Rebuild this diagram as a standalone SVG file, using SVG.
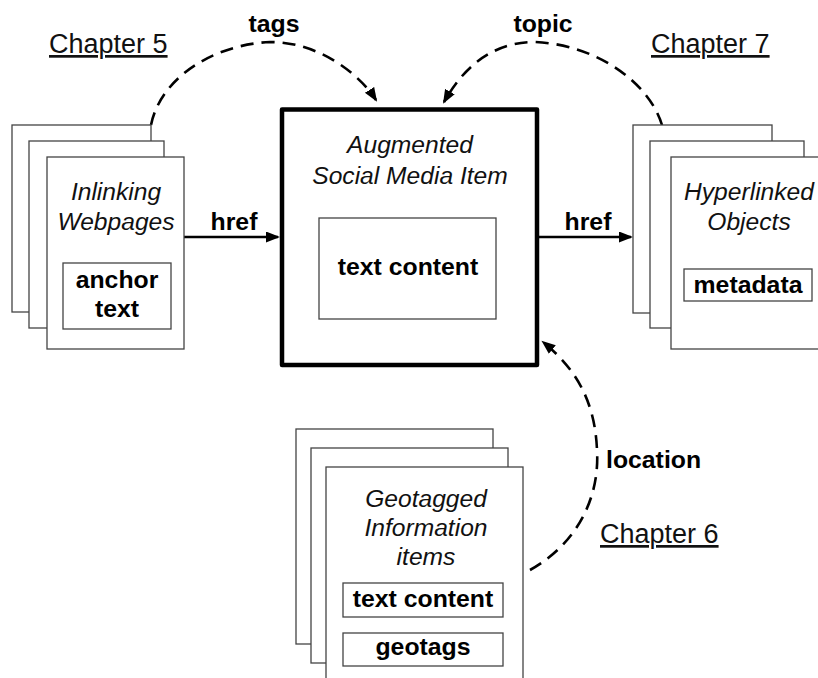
<svg xmlns="http://www.w3.org/2000/svg" width="818" height="678" viewBox="0 0 818 678">
  <style>
    .page { fill: #fff; stroke: #444; stroke-width: 1.3; }
    .inner { fill: #fff; stroke: #444; stroke-width: 1.3; }
    .main { fill: #fff; stroke: #000; stroke-width: 4.5; stroke-linejoin: round; }
    .it { font-family: "Liberation Sans", Arial, sans-serif; font-style: italic; font-size: 24.6px; fill: #111; text-anchor: middle; }
    .bd { font-family: "Liberation Sans", Arial, sans-serif; font-weight: bold; font-size: 24.8px; fill: #000; text-anchor: middle; }
    .ch { font-family: "Liberation Sans", Arial, sans-serif; font-size: 27px; fill: #111; text-decoration: underline; }
    .solid { fill: none; stroke: #000; stroke-width: 2.5; }
    .dash { fill: none; stroke: #000; stroke-width: 2.6; stroke-dasharray: 13 8; }
  </style>
  <defs>
    <marker id="head" markerUnits="userSpaceOnUse" markerWidth="16" markerHeight="12" refX="12" refY="5.5" orient="auto">
      <path d="M0,0 L14,5.5 L0,11 z" fill="#000"/>
    </marker>
  </defs>

  <rect width="818" height="678" fill="#fff"/>

  <!-- chapter captions -->
  <text class="ch" x="49" y="53">Chapter 5</text>
  <text class="ch" x="651" y="53">Chapter 7</text>
  <text class="ch" x="600" y="543">Chapter 6</text>

  <!-- connectors -->
  <g id="connectors">
    <path class="dash" d="M151,125 C160,80 210,45 270,42 C320,42 360,75 376,100" marker-end="url(#head)"/>
    <path class="dash" d="M662,125 C650,85 600,45 535,42 C490,42 462,70 444,102" marker-end="url(#head)"/>
    <path class="dash" d="M530,570 C575,545 600,500 597,450 C595,400 575,368 543,342" marker-end="url(#head)"/>
    <path class="solid" d="M184,237 H278" marker-end="url(#head)"/>
    <path class="solid" d="M539,237 H631" marker-end="url(#head)"/>
    <text class="bd" x="274" y="32">tags</text>
    <text class="bd" x="543" y="32">topic</text>
    <text class="bd" x="234" y="230">href</text>
    <text class="bd" x="588" y="230">href</text>
    <text class="bd" x="606" y="468" style="text-anchor:start">location</text>
  </g>

  <!-- inlinking webpages -->
  <g id="inlinking">
    <rect class="page" x="12" y="125" width="139" height="187"/>
    <rect class="page" x="29" y="141" width="135" height="187"/>
    <rect class="page" x="47" y="157" width="137" height="192"/>
    <text class="it" x="116" y="200">Inlinking</text>
    <text class="it" x="116" y="230">Webpages</text>
    <rect class="inner" x="63" y="263" width="108" height="66"/>
    <text class="bd" x="117" y="288">anchor</text>
    <text class="bd" x="117" y="317">text</text>
  </g>

  <!-- augmented social media item -->
  <g id="augmented">
    <rect class="main" x="282" y="109.5" width="255" height="255.5"/>
    <text class="it" x="410" y="153">Augmented</text>
    <text class="it" x="410" y="184">Social Media Item</text>
    <rect class="inner" x="319" y="218" width="177" height="101"/>
    <text class="bd" x="408" y="275">text content</text>
  </g>

  <!-- hyperlinked objects -->
  <g id="hyperlinked">
    <rect class="page" x="633" y="125" width="139" height="188"/>
    <rect class="page" x="650" y="141" width="154" height="187"/>
    <rect class="page" x="671" y="157" width="160" height="192"/>
    <text class="it" x="749" y="200">Hyperlinked</text>
    <text class="it" x="749" y="230">Objects</text>
    <rect class="inner" x="684" y="269" width="128" height="32"/>
    <text class="bd" x="748" y="293">metadata</text>
  </g>

  <!-- geotagged information items -->
  <g id="geotagged">
    <rect class="page" x="296" y="429" width="197" height="215"/>
    <rect class="page" x="311" y="448" width="197" height="215"/>
    <rect class="page" x="326" y="467" width="197" height="220"/>
    <text class="it" x="426" y="507">Geotagged</text>
    <text class="it" x="426" y="536">Information</text>
    <text class="it" x="426" y="565">items</text>
    <rect class="inner" x="343" y="583" width="160" height="34"/>
    <text class="bd" x="423" y="607">text content</text>
    <rect class="inner" x="343" y="633" width="160" height="33"/>
    <text class="bd" x="423" y="655">geotags</text>
  </g>
</svg>
